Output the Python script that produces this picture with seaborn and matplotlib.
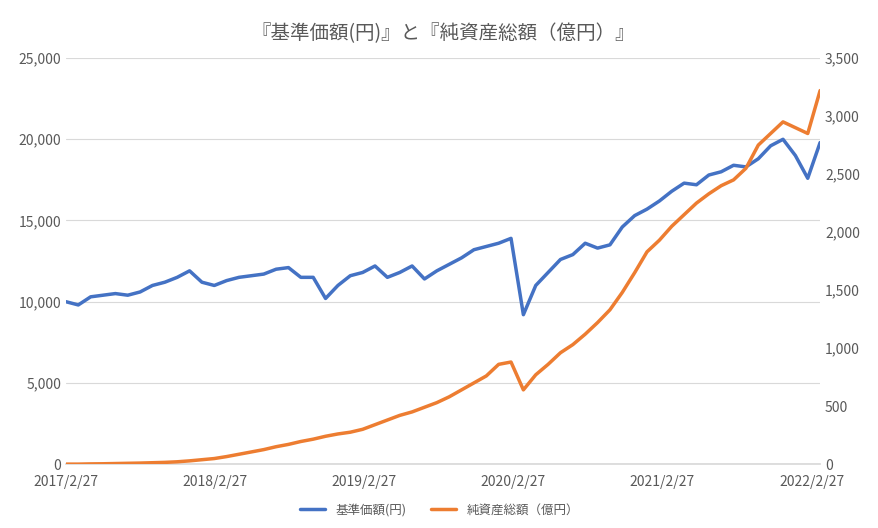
import matplotlib
matplotlib.use("Agg")
import matplotlib.pyplot as plt
import seaborn as sns
import pandas as pd

sns.set_theme(style="white")
plt.rcParams['font.family'] = ['Noto Sans CJK JP', 'DejaVu Sans']

dates = pd.date_range("2017-02-27", "2022-03-20", periods=62)
nav = [10000, 9800, 10300, 10400, 10500, 10400, 10600, 11000, 11200, 11500,
       11900, 11200, 11000, 11300, 11500, 11600, 11700, 12000, 12100, 11500, 11500, 10200,
       11000, 11600, 11800, 12200, 11500, 11800, 12200, 11400, 11900, 12300, 12700, 13200,
       13400, 13600, 13900, 9200, 11000, 11800, 12600, 12900, 13600, 13300, 13500, 14600, 15300,
       15700, 16200, 16800, 17300, 17200, 17800, 18000, 18400, 18300, 18800, 19600, 20000,
       19000, 17600, 19800]
aum = [0, 0, 2, 3, 5, 7, 9, 12, 15, 20, 28, 38,
       48, 65, 85, 105, 125, 150, 170, 195, 215, 240, 260, 275,
       300, 340, 380, 420, 450, 490, 530, 580, 640, 700, 760, 860,
       880, 640, 770, 860, 960, 1030, 1120, 1220, 1330, 1480, 1650, 1830,
       1930, 2050, 2150, 2250, 2330, 2400, 2450, 2550, 2750, 2850, 2950, 2900,
       2850, 3220]
df = pd.DataFrame({"date": dates, "nav": nav, "aum": aum})

blue, orange, grey = "#4472C4", "#ED7D31", "#595959"
fig, ax = plt.subplots(figsize=(8.79, 5.28), dpi=100)
fig.subplots_adjust(left=0.075, right=0.933, top=0.89, bottom=0.121)
ax2 = ax.twinx()
sns.lineplot(data=df, x="date", y="nav", ax=ax, color=blue, lw=2.5, label="基準価額(円)", legend=False)
sns.lineplot(data=df, x="date", y="aum", ax=ax2, color=orange, lw=2.5, label="純資産総額（億円）", legend=False)

ax.set_ylim(0, 25000); ax2.set_ylim(0, 3500)
ax.set_yticks(range(0, 25001, 5000)); ax2.set_yticks(range(0, 3501, 500))
ax.yaxis.set_major_formatter(matplotlib.ticker.StrMethodFormatter("{x:,.0f}"))
ax2.yaxis.set_major_formatter(matplotlib.ticker.StrMethodFormatter("{x:,.0f}"))
ticks = pd.to_datetime(["2017-02-27", "2018-02-27", "2019-02-27", "2020-02-27", "2021-02-27", "2022-02-27"])
ax.set_xticks(ticks)
ax.set_xticklabels([f"{d.year}/{d.month}/{d.day}" for d in ticks])
ax.set_xlim(pd.Timestamp("2017-02-27"), pd.Timestamp("2022-03-20"))
ax.grid(axis="y", color="#D9D9D9", lw=0.8)
for a in (ax, ax2):
    a.set_xlabel(""); a.set_ylabel("")
    for s in a.spines.values():
        s.set_visible(False)
    a.tick_params(colors=grey, labelsize=10, length=0)
ax.tick_params(axis="x", pad=8)
ax.spines["bottom"].set_visible(True); ax.spines["bottom"].set_color("#D9D9D9")
ax.set_title("『基準価額(円)』と『純資産総額（億円）』", color=grey, fontsize=14, pad=14)
h1, l1 = ax.get_legend_handles_labels(); h2, l2 = ax2.get_legend_handles_labels()
fig.legend(h1 + h2, l1 + l2, loc="lower center", ncol=2, frameon=False, fontsize=9,
           labelcolor=grey, bbox_to_anchor=(0.5, 0.0))
fig.savefig("out.png")
